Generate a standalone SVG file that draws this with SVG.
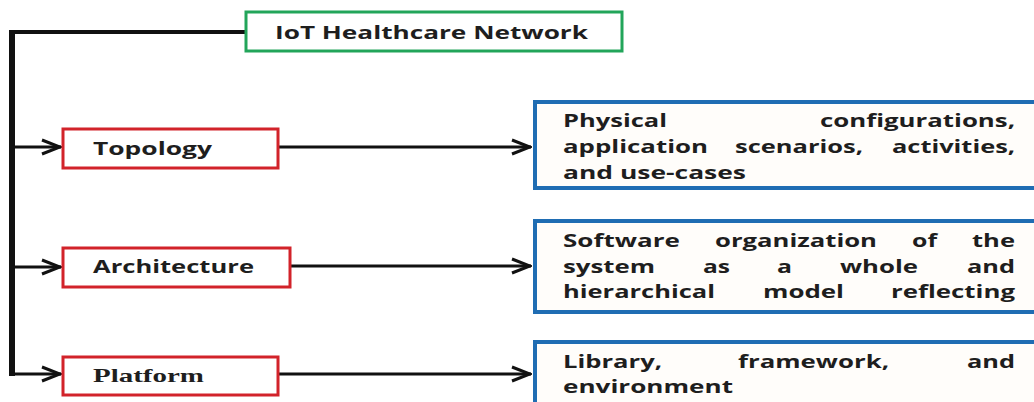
<svg xmlns="http://www.w3.org/2000/svg" width="1034" height="402" viewBox="0 0 1034 402">
  <style>
    .sans { font-family: "Open Sans", "Liberation Sans", sans-serif; font-weight: bold; font-size: 17px; fill: #1e1e1e; }
    .serif { font-family: "Liberation Serif", "DejaVu Serif", serif; font-weight: bold; font-size: 19px; fill: #1e1e1e; }
    .green { fill: #ffffff; stroke: #22a55a; stroke-width: 3; }
    .red { fill: #ffffff; stroke: #d2232a; stroke-width: 3; }
    .blue { fill: #fffdfa; stroke: #1f6db3; stroke-width: 4; }
    .wire { fill: none; stroke: #111111; stroke-width: 3; }
  </style>
  <defs>
    <marker id="arrow" viewBox="0 0 22 18" refX="21" refY="9" markerWidth="22" markerHeight="18" markerUnits="userSpaceOnUse" orient="auto">
      <path d="M2,2 L20,9 L2,16" fill="none" stroke="#111111" stroke-width="3" stroke-linejoin="miter"/>
    </marker>
  </defs>
  <rect width="1034" height="402" fill="#ffffff"/>

  <g id="connectors">
    <path class="wire" d="M245,32 H12" style="stroke-width:4"/>
    <path class="wire" d="M12,30 V376" style="stroke-width:6"/>
    <path class="wire" d="M12,147 H61" marker-end="url(#arrow)"/>
    <path class="wire" d="M12,267 H61" marker-end="url(#arrow)"/>
    <path class="wire" d="M12,374 H61" marker-end="url(#arrow)"/>
    <path class="wire" d="M278,147 H531" marker-end="url(#arrow)"/>
    <path class="wire" d="M290,266 H531" marker-end="url(#arrow)"/>
    <path class="wire" d="M278,374 H531" marker-end="url(#arrow)"/>
  </g>

  <g id="root">
    <rect class="green" x="246" y="12" width="376" height="39"/>
    <text class="sans" x="275" y="39" textLength="313" lengthAdjust="spacingAndGlyphs">IoT Healthcare Network</text>
  </g>

  <g id="topology">
    <rect class="red" x="63" y="129" width="215" height="39"/>
    <text class="sans" x="93" y="155" textLength="119" lengthAdjust="spacingAndGlyphs">Topology</text>
  </g>

  <g id="architecture">
    <rect class="red" x="63" y="248" width="227" height="39"/>
    <text class="sans" x="93" y="273" textLength="161" lengthAdjust="spacingAndGlyphs">Architecture</text>
  </g>

  <g id="platform">
    <rect class="red" x="63" y="357" width="215" height="38"/>
    <text class="serif" x="93" y="382" textLength="111" lengthAdjust="spacingAndGlyphs">Platform</text>
  </g>

  <g id="topology-detail">
    <rect class="blue" x="535" y="102" width="510" height="86"/>
    <text class="sans" y="127">
      <tspan x="563" textLength="104" lengthAdjust="spacingAndGlyphs">Physical</tspan>
      <tspan x="820" textLength="195" lengthAdjust="spacingAndGlyphs">configurations,</tspan>
    </text>
    <text class="sans" y="153">
      <tspan x="563" textLength="145" lengthAdjust="spacingAndGlyphs">application</tspan>
      <tspan x="735" textLength="128" lengthAdjust="spacingAndGlyphs">scenarios,</tspan>
      <tspan x="892" textLength="123" lengthAdjust="spacingAndGlyphs">activities,</tspan>
    </text>
    <text class="sans" y="179" textLength="183" lengthAdjust="spacingAndGlyphs" x="563">and use-cases</text>
  </g>

  <g id="architecture-detail">
    <rect class="blue" x="535" y="221" width="510" height="91"/>
    <text class="sans" y="247">
      <tspan x="563" textLength="117" lengthAdjust="spacingAndGlyphs">Software</tspan>
      <tspan x="715" textLength="162" lengthAdjust="spacingAndGlyphs">organization</tspan>
      <tspan x="912" textLength="25" lengthAdjust="spacingAndGlyphs">of</tspan>
      <tspan x="972" textLength="43" lengthAdjust="spacingAndGlyphs">the</tspan>
    </text>
    <text class="sans" y="273">
      <tspan x="563" textLength="92" lengthAdjust="spacingAndGlyphs">system</tspan>
      <tspan x="703" textLength="27" lengthAdjust="spacingAndGlyphs">as</tspan>
      <tspan x="777" textLength="15" lengthAdjust="spacingAndGlyphs">a</tspan>
      <tspan x="840" textLength="78" lengthAdjust="spacingAndGlyphs">whole</tspan>
      <tspan x="967" textLength="48" lengthAdjust="spacingAndGlyphs">and</tspan>
    </text>
    <text class="sans" y="298">
      <tspan x="563" textLength="152" lengthAdjust="spacingAndGlyphs">hierarchical</tspan>
      <tspan x="763" textLength="81" lengthAdjust="spacingAndGlyphs">model</tspan>
      <tspan x="891" textLength="124" lengthAdjust="spacingAndGlyphs">reflecting</tspan>
    </text>
  </g>

  <g id="platform-detail">
    <rect class="blue" x="535" y="342" width="510" height="80"/>
    <text class="sans" y="368">
      <tspan x="563" textLength="99" lengthAdjust="spacingAndGlyphs">Library,</tspan>
      <tspan x="738" textLength="151" lengthAdjust="spacingAndGlyphs">framework,</tspan>
      <tspan x="967" textLength="48" lengthAdjust="spacingAndGlyphs">and</tspan>
    </text>
    <text class="sans" y="393" x="563" textLength="170" lengthAdjust="spacingAndGlyphs">environment</text>
  </g>
</svg>
